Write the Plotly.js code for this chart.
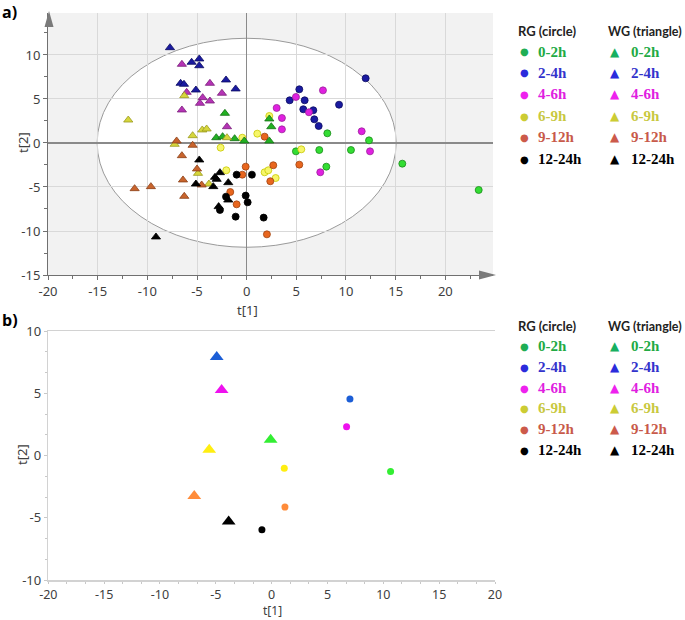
<!DOCTYPE html>
<html><head><meta charset="utf-8">
<script src="https://cdn.plot.ly/plotly-3.0.1.min.js"></script>
<style>html,body{margin:0;padding:0;background:#fff}#chart{width:685px;height:620px}</style>
</head><body><div id="chart"></div>
<script>
// ---------- DATA ----------
const groups = ['0-2h', '2-4h', '4-6h', '6-9h', '9-12h', '12-24h'];

// Panel a) RG (circles)
const aRG02x = [8.12, 12.32, 4.96, 7.31, 10.50, 15.67, 8.02, 23.36];
const aRG02y = [1.10, 0.30, -0.95, -0.80, -0.80, -2.35, -2.69, -5.34];
const aRG24x = [11.98, 5.30, 4.33, 5.84, 9.30, 5.70, 6.71, 6.81, 7.25];
const aRG24y = [7.35, 6.10, 4.85, 4.85, 4.35, 3.83, 3.72, 2.69, 1.93];
const aRG46x = [7.68, 4.96, 3.02, 6.27, 3.55, 3.55, 11.58, 12.42, 7.41];
const aRG46y = [5.98, 5.23, 3.98, 3.49, 2.84, 1.55, 1.33, -0.95, -3.33];
const aRG69x = [2.28, 1.07, -0.44, -2.62, 5.50, -2.05, 1.81, 2.18, 2.92];
const aRG69y = [3.07, 1.06, 0.60, -0.53, -0.72, -3.10, -3.33, -3.10, -3.98];
const aRG912x = [1.81, -0.10, 2.68, 5.30, -0.44, 2.38, -1.65, -1.01, 2.04];
const aRG912y = [0.72, -2.69, -2.53, -2.46, -3.60, -4.35, -5.57, -6.97, -10.38];
const aRG1224x = [-1.01, 0.53, -0.10, -2.08, 0.10, -2.69, -1.11, 1.71];
const aRG1224y = [-3.60, -3.60, -5.98, -6.10, -6.74, -7.61, -8.37, -8.48];

// Panel a) WG (triangles)
const aWG02x = [-2.19, 2.28, 2.48, -3.06, -2.42, -1.21, -0.24, 2.28];
const aWG02y = [3.37, 2.73, 1.85, 0.60, 0.72, 0.49, 0.23, 0.23];
const aWG24x = [-7.72, -5.54, -4.77, -4.77, -6.65, -6.31, -2.08, -5.11, -1.11];
const aWG24y = [10.83, 9.17, 9.55, 8.78, 6.78, 6.67, 7.16, 6.02, 6.14];
const aWG46x = [-6.52, -3.70, -6.04, -2.49, -4.43, -4.70, -3.70, -6.52, -1.98];
const aWG46y = [8.94, 6.78, 5.76, 5.65, 5.15, 4.51, 4.77, 3.75, 1.85];
const aWG69x = [-6.28, -11.92, -5.44, -4.47, -4.03, -1.98, -7.25, -4.90, -3.80];
const aWG69y = [5.38, 2.61, 0.83, 1.48, 1.59, 0.60, -0.15, -3.45, -4.66];
const aWG912x = [-7.05, -5.44, -6.52, -5.00, -6.41, -11.28, -9.64, -4.53, -6.28];
const aWG912y = [0.23, -0.26, -1.44, -2.95, -4.20, -5.19, -4.96, -4.77, -6.06];
const aWG1224x = [-4.77, -2.69, -3.19, -3.02, -1.85, -5.11, -3.36, -1.85, -2.82, -9.13];
const aWG1224y = [-1.93, -3.37, -3.90, -4.13, -4.51, -4.66, -4.96, -6.48, -7.23, -10.68];

// Panel b) group means (order follows groups)
const bRGx = [10.65, 7.01, 6.71, 1.13, 1.19, -0.87];
const bRGy = [-1.29, 4.54, 2.30, -1.02, -4.14, -5.97];
const bWGx = [-0.09, -4.92, -4.48, -5.59, -6.93, -3.85];
const bWGy = [1.26, 7.92, 5.26, 0.46, -3.26, -5.31];

// Tick values
const aTicksX = [-20, -15, -10, -5, 0, 5, 10, 15, 20];
const aTicksY = [-15, -10, -5, 0, 5, 10];
const bTicksX = [-20, -15, -10, -5, 0, 5, 10, 15, 20];
const bTicksY = [-10, -5, 0, 5, 10];

// ---------- STYLES ----------
const FONT = 'Noto Sans, Open Sans, sans-serif';
const aRGstyle = [
  {fill: '#33dd33', line: '#1b8a1b'},
  {fill: '#1a1aa0', line: '#0b0b60'},
  {fill: '#e020e0', line: '#992299'},
  {fill: '#f6f66a', line: '#c8c800'},
  {fill: '#e8661e', line: '#a04412'},
  {fill: '#000000', line: '#000000'}
];
const aWGstyle = [
  {fill: '#22b022', line: '#147014'},
  {fill: '#1a1aa0', line: '#0b0b60'},
  {fill: '#b533b5', line: '#7a1f7a'},
  {fill: '#d6d63c', line: '#9a9a20'},
  {fill: '#c8642d', line: '#8a3f17'},
  {fill: '#000000', line: '#000000'}
];
const bColors = ['#33ee33', '#1c5ed6', '#ee11ee', '#ffee11', '#ff8c3a', '#000000'];
const legMarkRG = ['#1fae55', '#2b2bdc', '#ee22ee', '#cccc33', '#cc5a4a', '#000000'];
const legMarkWG = ['#16b060', '#2b2bdc', '#ee22ee', '#cccc33', '#cc5a4a', '#000000'];
const legText = ['#22aa44', '#3333cc', '#e020e0', '#c8c840', '#c85a4a', '#000000'];

const aRGx = [aRG02x, aRG24x, aRG46x, aRG69x, aRG912x, aRG1224x];
const aRGy = [aRG02y, aRG24y, aRG46y, aRG69y, aRG912y, aRG1224y];
const aWGx = [aWG02x, aWG24x, aWG46x, aWG69x, aWG912x, aWG1224x];
const aWGy = [aWG02y, aWG24y, aWG46y, aWG69y, aWG912y, aWG1224y];

const traces = [];
groups.forEach((g, i) => {
  traces.push({type: 'scatter', mode: 'markers', name: 'RG ' + g, x: aRGx[i], y: aRGy[i], xaxis: 'x', yaxis: 'y',
    marker: {symbol: 'circle', size: 7, color: aRGstyle[i].fill, line: {color: aRGstyle[i].line, width: 0.8}}, showlegend: false, hoverinfo: 'skip'});
});
groups.forEach((g, i) => {
  traces.push({type: 'scatter', mode: 'markers', name: 'WG ' + g, x: aWGx[i], y: aWGy[i], xaxis: 'x', yaxis: 'y',
    marker: {symbol: 'triangle-up', size: 8, color: aWGstyle[i].fill, line: {color: aWGstyle[i].line, width: 0.8}}, showlegend: false, hoverinfo: 'skip'});
});
groups.forEach((g, i) => {
  traces.push({type: 'scatter', mode: 'markers', name: 'RG ' + g, x: [bRGx[i]], y: [bRGy[i]], xaxis: 'x2', yaxis: 'y2',
    marker: {symbol: 'circle', size: 7, color: bColors[i], line: {width: 0}}, showlegend: false, hoverinfo: 'skip'});
  traces.push({type: 'scatter', mode: 'markers', name: 'WG ' + g, x: [bWGx[i]], y: [bWGy[i]], xaxis: 'x2', yaxis: 'y2',
    marker: {symbol: 'triangle-up', size: 12, color: bColors[i], line: {width: 0}}, showlegend: false, hoverinfo: 'skip'});
});

// ---------- LAYOUT ----------
const W = 685, H = 620;
const px = v => v / W;
const py = v => 1 - v / H;
const tickFont = {family: FONT, size: 13, color: '#404040'};
const tickFontB = {family: FONT, size: 12.5, color: '#404040'};
const titleFont = {family: FONT, size: 13, color: '#404040'};

const annotations = [
  {text: '<b>a)</b>', x: px(0), y: py(12), xref: 'paper', yref: 'paper', xanchor: 'left', yanchor: 'middle', showarrow: false, font: {family: 'Open Sans, sans-serif', size: 16, color: '#000'}},
  {text: '<b>b)</b>', x: px(0), y: py(320), xref: 'paper', yref: 'paper', xanchor: 'left', yanchor: 'middle', showarrow: false, font: {family: 'Open Sans, sans-serif', size: 16, color: '#000'}},
  // axis titles
  {text: 't[1]', x: px(247), y: py(310), xref: 'paper', yref: 'paper', xanchor: 'center', yanchor: 'middle', showarrow: false, font: titleFont},
  {text: 't[2]', x: px(23), y: py(143), xref: 'paper', yref: 'paper', xanchor: 'center', yanchor: 'middle', textangle: -90, showarrow: false, font: titleFont},
  {text: 't[1]', x: px(272), y: py(620), xref: 'paper', yref: 'paper', xanchor: 'center', yanchor: 'bottom', showarrow: false, font: {family: FONT, size: 12, color: '#404040'}, borderpad: 0},
  {text: 't[2]', x: px(22), y: py(455), xref: 'paper', yref: 'paper', xanchor: 'center', yanchor: 'middle', textangle: -90, showarrow: false, font: titleFont}
];
function addLegend(headerY, rowYs) {
  annotations.push({text: '<b>RG (circle)</b>', x: px(516), y: py(headerY), xref: 'paper', yref: 'paper', xanchor: 'left', yanchor: 'middle', showarrow: false, font: {family: 'Lato, sans-serif', size: 13, color: '#222'}});
  annotations.push({text: '<b>WG (triangle)</b>', x: px(684), y: py(headerY), xref: 'paper', yref: 'paper', xanchor: 'right', yanchor: 'middle', showarrow: false, font: {family: 'Lato, sans-serif', size: 12.5, color: '#222'}});
  groups.forEach((g, i) => {
    const yy = py(rowYs[i]);
    annotations.push({text: '●', x: px(524), y: yy, xref: 'paper', yref: 'paper', xanchor: 'center', yanchor: 'middle', showarrow: false, font: {family: 'DejaVu Sans', size: 10, color: legMarkRG[i]}});
    annotations.push({text: '<b>' + g + '</b>', x: px(536), y: yy, xref: 'paper', yref: 'paper', xanchor: 'left', yanchor: 'middle', showarrow: false, font: {family: 'Liberation Serif, serif', size: 15, color: legText[i]}});
    annotations.push({text: '▲', x: px(615), y: yy, xref: 'paper', yref: 'paper', xanchor: 'center', yanchor: 'middle', showarrow: false, font: {family: 'DejaVu Sans', size: 12, color: legMarkWG[i]}});
    annotations.push({text: '<b>' + g + '</b>', x: px(629), y: yy, xref: 'paper', yref: 'paper', xanchor: 'left', yanchor: 'middle', showarrow: false, font: {family: 'Liberation Serif, serif', size: 15, color: legText[i]}});
  });
}
addLegend(31, [52, 73, 94, 116, 137, 159]);
addLegend(326, [346, 367, 388, 408, 429, 450]);

const shapes = [
  {type: 'rect', xref: 'x domain', yref: 'y domain', x0: 0, x1: 1, y0: 0, y1: 1, fillcolor: '#f2f2f2', line: {width: 0}, layer: 'below'},
  {type: 'circle', xref: 'x', yref: 'y', x0: -15.05, x1: 15.05, y0: -11.85, y1: 11.9, fillcolor: '#ffffff', line: {color: '#9a9a9a', width: 1}, layer: 'below'},
  {type: 'path', xref: 'paper', yref: 'paper', path: `M ${px(44.5)} ${py(27)} L ${px(49)} ${py(11)} L ${px(53.5)} ${py(27)} Z`, fillcolor: '#7a7a7a', line: {width: 0}, layer: 'above'},
  {type: 'path', xref: 'paper', yref: 'paper', path: `M ${px(479)} ${py(270.5)} L ${px(496)} ${py(275)} L ${px(479)} ${py(279.5)} Z`, fillcolor: '#7a7a7a', line: {width: 0}, layer: 'above'}
];

const layout = {
  width: W, height: H,
  margin: {l: 0, r: 0, t: 0, b: 0},
  paper_bgcolor: '#ffffff', plot_bgcolor: 'rgba(0,0,0,0)',
  showlegend: false,
  font: {family: FONT},
  xaxis: {
    domain: [px(48), px(493)], range: [-20, 24.8], anchor: 'y',
    tickmode: 'array', tickvals: aTicksX, ticktext: aTicksX.map(String),
    showgrid: true, gridcolor: '#d9d9d9', gridwidth: 1,
    zeroline: true, zerolinecolor: '#8a8a8a', zerolinewidth: 1.5,
    showline: true, linecolor: '#707070', linewidth: 1,
    ticks: 'outside', ticklen: 4, tickcolor: '#707070',
    minor: {dtick: 2.5, tick0: 0, ticks: 'outside', ticklen: 3, tickcolor: '#707070', showgrid: false},
    tickfont: tickFont, automargin: false, fixedrange: true
  },
  yaxis: {
    domain: [py(275), py(13)], range: [-15, 14.77], anchor: 'x',
    tickmode: 'array', tickvals: aTicksY, ticktext: aTicksY.map(String),
    showgrid: true, gridcolor: '#d9d9d9', gridwidth: 1,
    zeroline: true, zerolinecolor: '#8a8a8a', zerolinewidth: 1.5,
    showline: true, linecolor: '#707070', linewidth: 1,
    ticks: 'outside', ticklen: 4, tickcolor: '#707070',
    minor: {dtick: 2.5, tick0: 0, ticks: 'outside', ticklen: 3, tickcolor: '#707070', showgrid: false},
    tickfont: tickFont, automargin: false, fixedrange: true
  },
  xaxis2: {
    domain: [px(48.3), px(495)], range: [-20, 20], anchor: 'y2',
    tickmode: 'array', tickvals: bTicksX, ticktext: bTicksX.map(String),
    showgrid: false, zeroline: false,
    showline: true, mirror: true, linecolor: '#d2d2d2', linewidth: 1.5,
    ticks: 'outside', ticklen: 2, tickcolor: '#c8c8c8',
    minor: {dtick: 5 / 3, tick0: 0, ticks: 'outside', ticklen: 2, tickcolor: '#c8c8c8', showgrid: false},
    tickfont: tickFontB, automargin: false, fixedrange: true
  },
  yaxis2: {
    domain: [py(580), py(331)], range: [-10, 10], anchor: 'x2',
    tickmode: 'array', tickvals: bTicksY, ticktext: bTicksY.map(String),
    showgrid: false, zeroline: false,
    showline: true, linecolor: '#d2d2d2', linewidth: 1.5,
    ticks: 'outside', ticklen: 3, tickcolor: '#c8c8c8',
    minor: {dtick: 5 / 3, tick0: 0, ticks: 'outside', ticklen: 2, tickcolor: '#c8c8c8', showgrid: false},
    tickfont: tickFont, automargin: false, fixedrange: true
  },
  shapes: shapes,
  annotations: annotations
};

Plotly.newPlot('chart', traces, layout, {displayModeBar: false, staticPlot: true});
</script>
</body></html>
